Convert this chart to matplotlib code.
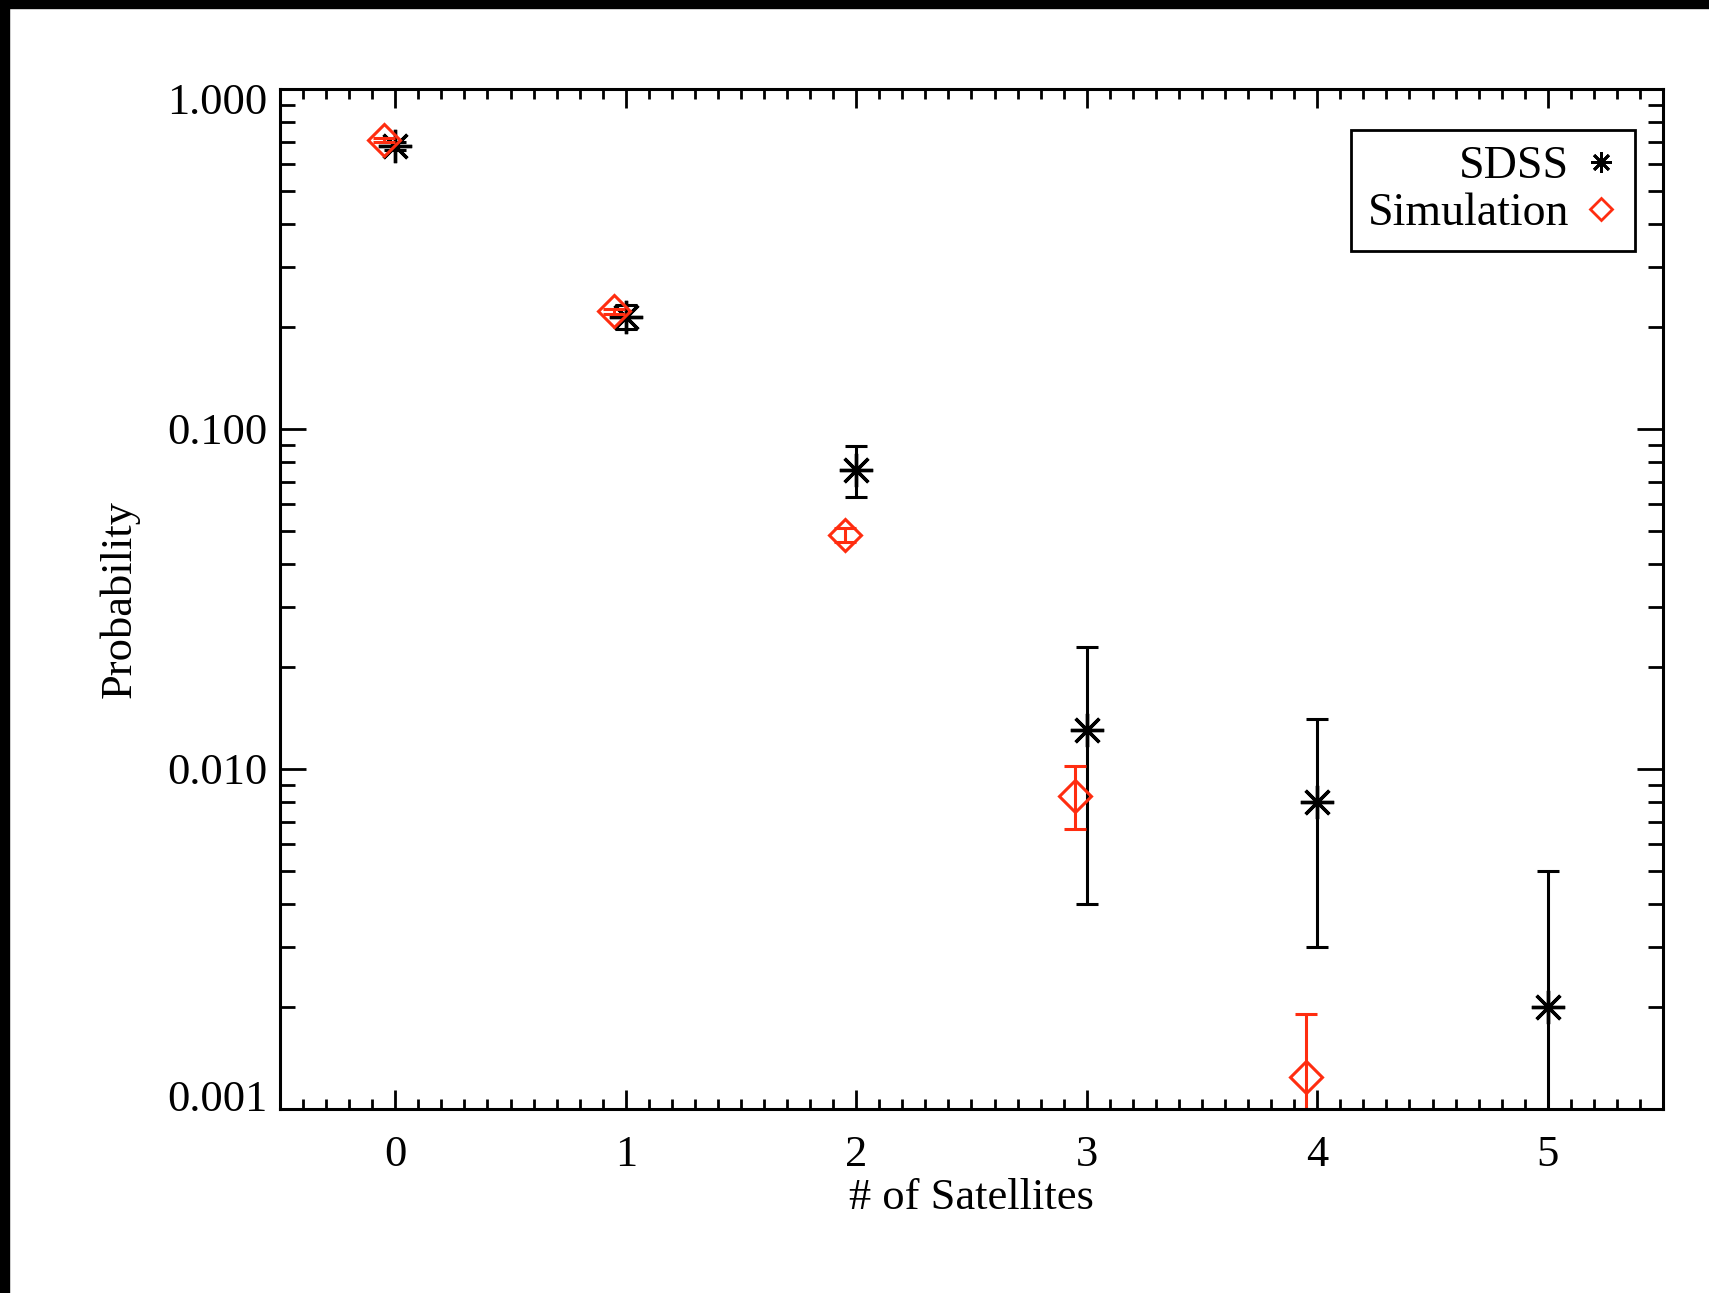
import numpy as np
import matplotlib
matplotlib.use('Agg')
import matplotlib.pyplot as plt
import matplotlib.transforms as mtransforms
from matplotlib.patches import Rectangle
from matplotlib.lines import Line2D
from matplotlib.ticker import LogLocator, FixedLocator, MultipleLocator, FormatStrFormatter

plt.rcParams['font.family'] = ['Liberation Serif', 'DejaVu Serif']

# number of satellites
n_sat = [0, 1, 2, 3, 4, 5]

# SDSS probabilities and errors (lower, upper)
sdss_p = [0.68, 0.214, 0.076, 0.0130, 0.0080, 0.0020]
sdss_lo = [0.66, 0.197, 0.063, 0.0040, 0.0030, 0.0005]
sdss_hi = [0.70, 0.231, 0.089, 0.0228, 0.0140, 0.0050]

# simulation probabilities and errors
sim_x = [0, 1, 2, 3, 4]
sim_p = [0.71, 0.222, 0.0487, 0.00835, 0.00124]
sim_lo = [0.70, 0.218, 0.0465, 0.00665, 0.0008]
sim_hi = [0.72, 0.226, 0.0510, 0.01023, 0.0019]

red = '#ff2d10'
fs = 32

fig = plt.figure(figsize=(17.09, 12.93), dpi=100)
ax = fig.add_axes([280/1709, 1-1109/1293, (1663-280)/1709, (1109-89)/1293])

# black frame strips from the screenshot
fig.add_artist(Rectangle((0, 1-8/1293), 1, 8/1293, transform=fig.transFigure, color='k'))
fig.add_artist(Rectangle((0, 0), 9/1709, 1, transform=fig.transFigure, color='k'))

sp = np.array(sdss_p)
ax.errorbar(n_sat, sdss_p, yerr=[sp-np.array(sdss_lo), np.array(sdss_hi)-sp],
            fmt='none', ecolor='k', elinewidth=2.2, capsize=8, capthick=2.2)
ax.plot(n_sat, sdss_p, ls='none', marker=(8, 2, 0), ms=24, mew=2.4, color='k')

xs = np.array(sim_x) - 0.05
mp = np.array(sim_p)
ax.errorbar(xs, sim_p, yerr=[mp-np.array(sim_lo), np.array(sim_hi)-mp],
            fmt='none', ecolor=red, elinewidth=2.2, capsize=8, capthick=2.2)
ax.plot(xs, sim_p, ls='none', marker='D', ms=16, mew=2.2, mfc='none', mec=red)

ax.set_yscale('log')
ax.set_xlim(-0.5, 5.5)
ax.set_ylim(0.001, 1.0)

ax.xaxis.set_major_locator(FixedLocator(n_sat))
ax.xaxis.set_minor_locator(MultipleLocator(0.1))
ax.yaxis.set_major_locator(FixedLocator([0.001, 0.01, 0.1, 1.0]))
ax.yaxis.set_minor_locator(LogLocator(base=10, subs=np.arange(2, 10)))
ax.yaxis.set_major_formatter(FormatStrFormatter('%.3f'))
ax.yaxis.set_minor_formatter(plt.NullFormatter())

ax.tick_params(axis='both', which='both', direction='in', top=True, right=True,
               width=2, labelsize=fs, colors='k')
ax.tick_params(axis='x', which='major', length=14, pad=19)
ax.tick_params(axis='x', which='minor', length=7)
ax.tick_params(axis='y', which='major', length=19, pad=9)
ax.tick_params(axis='y', which='minor', length=11)
for s in ax.spines.values():
    s.set_linewidth(2.2)

# end labels sit inside the axis range, like IDL does
ylabels = ax.get_yticklabels()
ylabels[0].set_transform(ylabels[0].get_transform() + mtransforms.ScaledTranslation(0, 10/72, fig.dpi_scale_trans))
ylabels[-1].set_transform(ylabels[-1].get_transform() + mtransforms.ScaledTranslation(0, -7/72, fig.dpi_scale_trans))

ax.set_xlabel('# of Satellites', fontsize=fs, labelpad=2)
ax.set_ylabel('Probability', fontsize=fs, labelpad=20)

h1 = Line2D([], [], ls='none', marker=(8, 2, 0), ms=15, mew=2, color='k')
h2 = Line2D([], [], ls='none', marker='D', ms=11, mew=2, mfc='none', mec=red)
leg = ax.legend([h1, h2], ['SDSS', 'Simulation'], loc='upper right',
                bbox_to_anchor=(0.98, 0.96), markerfirst=False, fontsize=fs+1,
                fancybox=False, framealpha=1, edgecolor='k', handlelength=0.8,
                handletextpad=0.3, borderpad=0.35, labelspacing=0.1, borderaxespad=0)
leg.get_frame().set_linewidth(2)
for t in leg.get_texts():
    t.set_ha('right')

fig.savefig('out.png', dpi=100, facecolor='white')
